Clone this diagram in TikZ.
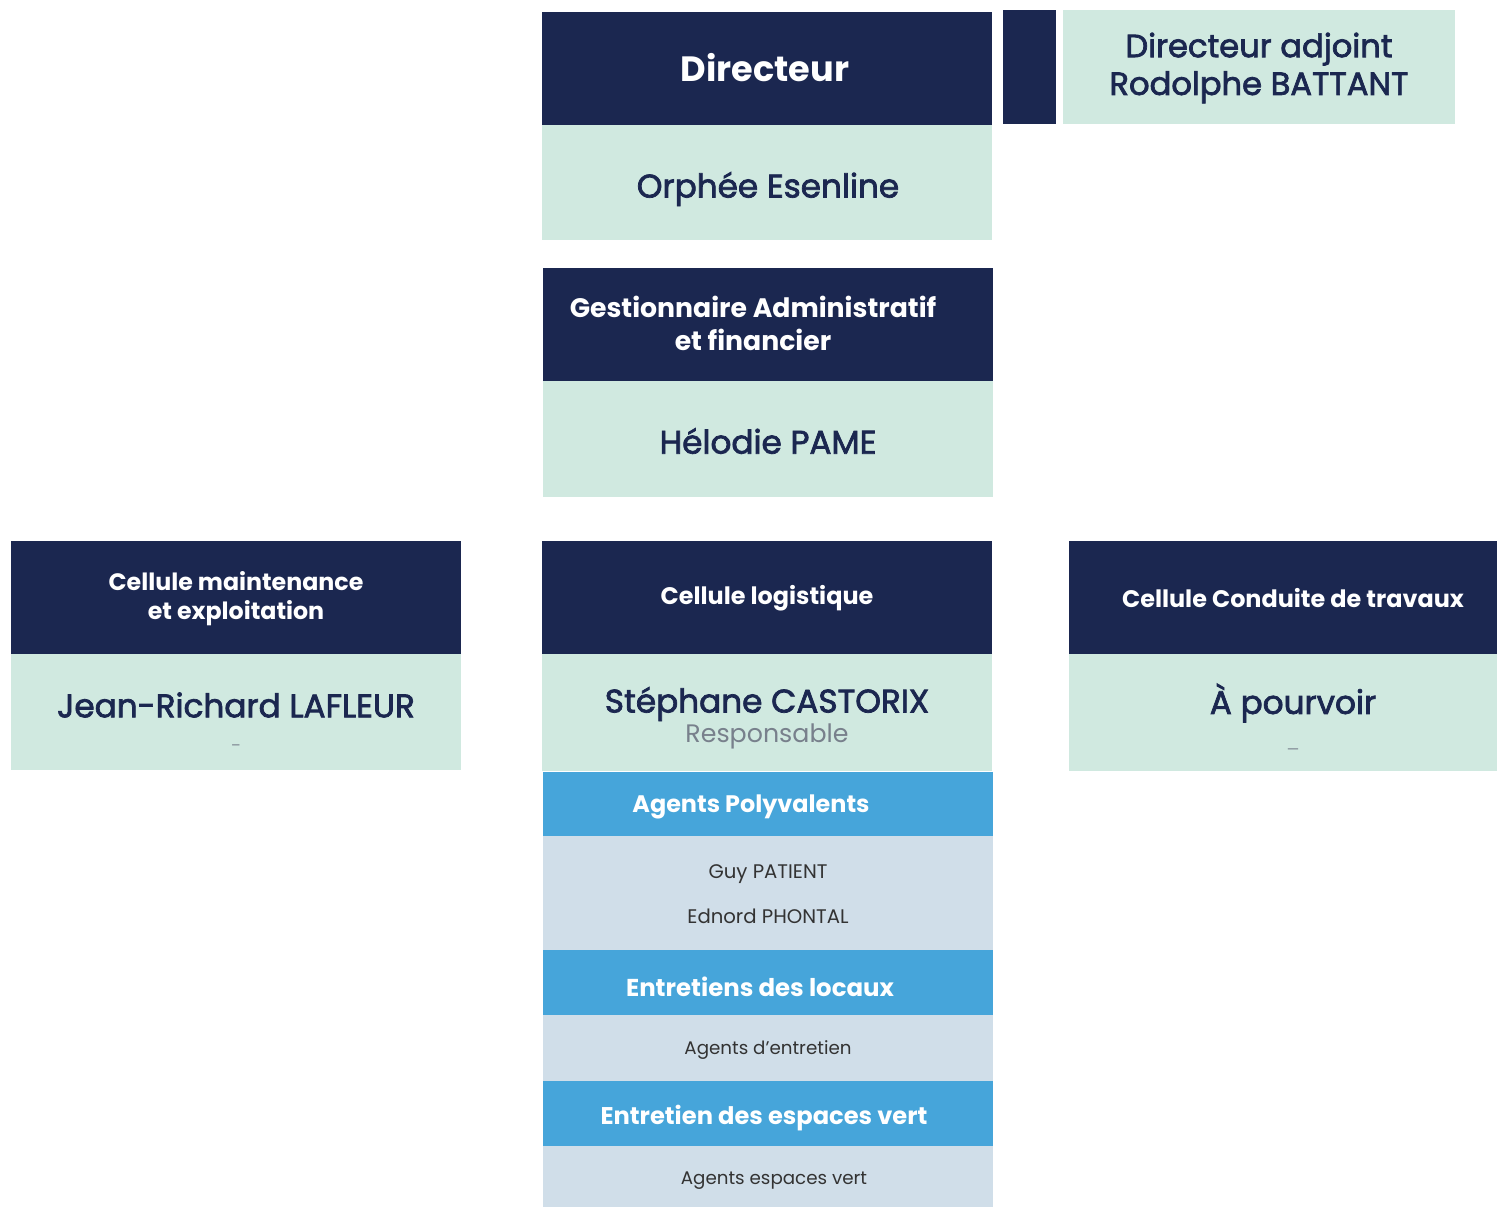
\documentclass[tikz,border=0pt]{standalone}
\usepackage{fontspec}
\setmainfont{Poppins}
\newfontfamily\medfont{Poppins}[FakeBold=2.2]
\usepackage{xcolor}
\usepackage{tikz}

\definecolor{navy}{RGB}{27,39,80}
\definecolor{mint}{RGB}{208,233,224}
\definecolor{skyblue}{RGB}{70,165,218}
\definecolor{paleblue}{RGB}{208,222,233}
\definecolor{darkgrey}{RGB}{51,51,51}
\definecolor{softgrey}{RGB}{120,128,140}

\tikzset{
  box/.style={anchor=north west, inner sep=0pt, outer sep=0pt, draw=none},
  headtxt/.style={text=white, font=\bfseries, align=center},
  nametxt/.style={text=navy, font=\medfont\fontsize{18.6}{22}\selectfont, align=center},
  smalltxt/.style={text=darkgrey, font=\fontsize{11.2}{13}\selectfont}
}

\begin{document}
\begin{tikzpicture}[x=0.02cm, y=-0.02cm]
\useasboundingbox (0,0) rectangle (1497,1207);
% boxes
\node[box, fill=navy, minimum width=9cm, minimum height=2.26cm] (dirbox) at (542,12) {};
\node[box, fill=mint, minimum width=9cm, minimum height=2.3cm] (orphbox) at (542,125) {};
\node[box, fill=navy, minimum width=1.06cm, minimum height=2.28cm] (adjmark) at (1003,10) {};
\node[box, fill=mint, minimum width=7.84cm, minimum height=2.28cm] (adjbox) at (1063,10) {};
\node[box, fill=navy, minimum width=9cm, minimum height=2.26cm] (gestbox) at (543,268) {};
\node[box, fill=mint, minimum width=9cm, minimum height=2.32cm] (helobox) at (543,381) {};
\node[box, fill=navy, minimum width=9cm, minimum height=2.26cm] (maintbox) at (11,541) {};
\node[box, fill=mint, minimum width=9cm, minimum height=2.32cm] (jrbox) at (11,654) {};
\node[box, fill=navy, minimum width=9cm, minimum height=2.26cm] (logbox) at (542,541) {};
\node[box, fill=mint, minimum width=9cm, minimum height=2.34cm] (stephbox) at (542,654) {};
\node[box, fill=navy, minimum width=8.56cm, minimum height=2.26cm] (travbox) at (1069,541) {};
\node[box, fill=mint, minimum width=8.56cm, minimum height=2.34cm] (pourvbox) at (1069,654) {};
\node[box, fill=skyblue, minimum width=9cm, minimum height=1.28cm] (polybox) at (543,772) {};
\node[box, fill=paleblue, minimum width=9cm, minimum height=2.28cm] (polylist) at (543,836) {};
\node[box, fill=skyblue, minimum width=9cm, minimum height=1.3cm] (locbox) at (543,950) {};
\node[box, fill=paleblue, minimum width=9cm, minimum height=1.32cm] (loclist) at (543,1015) {};
\node[box, fill=skyblue, minimum width=9cm, minimum height=1.3cm] (vertbox) at (543,1081) {};
\node[box, fill=paleblue, minimum width=9cm, minimum height=1.22cm] (vertlist) at (543,1146) {};
% texts
\node[headtxt, font=\bfseries\fontsize{20}{24}\selectfont] (dirtxt) at (765,68) {Directeur};
\node[nametxt] (orphtxt) at (768,189) {Orphée Esenline};
\node[nametxt, font=\medfont\fontsize{18.3}{21.5}\selectfont] (adjtxt) at (1259,68) {Directeur adjoint\\Rodolphe BATTANT};
\node[headtxt, font=\bfseries\fontsize{15.2}{18.7}\selectfont] (gesttxt) at (753,323) {Gestionnaire Administratif\\et financier};
\node[nametxt] (helotxt) at (768,441) {Hélodie PAME};
\node[headtxt, font=\bfseries\fontsize{13.5}{16.4}\selectfont] (mainttxt) at (236,599) {Cellule maintenance\\et exploitation};
\node[nametxt] (jrtxt) at (236,705) {Jean-Richard LAFLEUR};
\node[text=softgrey, font=\fontsize{8}{9}\selectfont] (jrdash) at (236,748) {–};
\node[headtxt, font=\bfseries\fontsize{13.6}{16}\selectfont] (logtxt) at (767,598) {Cellule logistique};
\node[nametxt] (stephtxt) at (767,704) {Stéphane CASTORIX};
\node[text=softgrey, font=\fontsize{14.4}{16}\selectfont] (resptxt) at (767,736) {Responsable};
\node[headtxt, font=\bfseries\fontsize{13.6}{16}\selectfont] (travtxt) at (1293,598) {Cellule Conduite de travaux};
\node[nametxt] (pourvtxt) at (1293,703) {À pourvoir};
\node[text=softgrey, font=\fontsize{8}{9}\selectfont] (pourvdash) at (1293,752) {—};
\node[headtxt, font=\bfseries\fontsize{13.6}{16}\selectfont] (polytxt) at (751,807) {Agents Polyvalents};
\node[smalltxt] (guytxt) at (768,874) {Guy PATIENT};
\node[smalltxt] (edtxt) at (768,916) {Ednord PHONTAL};
\node[headtxt, font=\bfseries\fontsize{13.9}{16}\selectfont] (loctxt) at (760,987) {Entretiens des locaux};
\node[smalltxt, font=\fontsize{10.4}{12}\selectfont] (agenttxt) at (768,1050) {Agents d’entretien};
\node[headtxt, font=\bfseries\fontsize{13.75}{16}\selectfont] (verttxt) at (764,1118) {Entretien des espaces vert};
\node[smalltxt, font=\fontsize{10.4}{12}\selectfont] (espacetxt) at (774,1181) {Agents espaces vert};
\end{tikzpicture}
\end{document}
